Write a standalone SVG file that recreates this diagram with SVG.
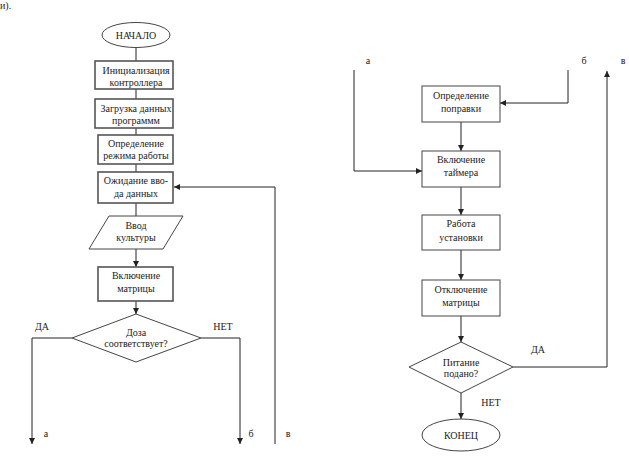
<svg xmlns="http://www.w3.org/2000/svg" width="629" height="463" viewBox="0 0 629 463">
<style>
text{font-size:10px;fill:#222;text-anchor:middle}
.lbl{text-anchor:start}
.b{fill:#fff;stroke:#555;stroke-width:1.6}
.b2{fill:#fff;stroke:#444;stroke-width:1}
.c{fill:none;stroke:#222;stroke-width:1}
</style>
<defs>
<marker id="ah" viewBox="0 0 10 10" refX="10" refY="5" markerWidth="6" markerHeight="6" orient="auto" markerUnits="userSpaceOnUse">
<path d="M0,0 L10,5 L0,10 z" fill="#222"/>
</marker>
</defs>
<rect width="629" height="463" fill="#fff"/>
<g font-family="'Liberation Serif', 'DejaVu Serif', 'Times New Roman', serif">
<text class="lbl" x="0" y="9" font-size="9">и).</text>
<g id="connectors">
<path class="c" d="M136,48 V61"/>
<path class="c" d="M136,89 V99"/>
<path class="c" d="M136,128 V135"/>
<path class="c" d="M136,164 V172"/>
<path class="c" d="M136,203 V216"/>
<path class="c" d="M136,249 V267" marker-end="url(#ah)"/>
<path class="c" d="M136,301 V314" marker-end="url(#ah)"/>
<path class="c" d="M72,338 H32 V444" marker-end="url(#ah)"/>
<path class="c" d="M201,338 H240 V444" marker-end="url(#ah)"/>
<path class="c" d="M275,444 V187 H174" marker-end="url(#ah)"/>
<path class="c" d="M354,70 V171 H422" marker-end="url(#ah)"/>
<path class="c" d="M568,70 V103 H500" marker-end="url(#ah)"/>
<path class="c" d="M513,367 H607 V71" marker-end="url(#ah)"/>
<path class="c" d="M461,122 V151" marker-end="url(#ah)"/>
<path class="c" d="M461,187 V215" marker-end="url(#ah)"/>
<path class="c" d="M461,250 V280" marker-end="url(#ah)"/>
<path class="c" d="M461,316 V342" marker-end="url(#ah)"/>
<path class="c" d="M461,393 V419" marker-end="url(#ah)"/>
</g>
<g id="labels">
<text x="42" y="330">ДА</text>
<text x="223" y="330">НЕТ</text>
<text x="46" y="437">а</text>
<text x="251" y="437">б</text>
<text x="288" y="437">в</text>
<text x="368" y="64">а</text>
<text x="584" y="64">б</text>
<text x="623" y="64">в</text>
<text x="538" y="353">ДА</text>
<text x="491" y="406">НЕТ</text>
</g>
<g id="start"><ellipse class="b2" cx="136" cy="35" rx="34" ry="12.5"/><text x="136" y="39">НАЧАЛО</text></g>
<g id="init"><rect class="b" x="95" y="61" width="78" height="28"/><text x="136" y="73.5">Инициализация</text><text x="136" y="85.5">контроллера</text></g>
<g id="load"><rect class="b" x="95" y="99" width="78" height="29"/><text x="136" y="111.5">Загрузка данных</text><text x="136" y="123.5">программм</text></g>
<g id="mode"><rect class="b" x="98" y="135" width="75" height="29"/><text x="136" y="146.5">Определение</text><text x="136" y="158.5">режима работы</text></g>
<g id="wait"><rect class="b" x="98" y="172" width="75" height="31"/><text x="136" y="183.5">Ожидание вво-</text><text x="136" y="196.5">да данных</text></g>
<g id="input"><path class="b2" d="M109,216 H183 L163,249 H89 z"/><text x="136" y="228.5">Ввод</text><text x="136" y="240.5">культуры</text></g>
<g id="matrix-on"><rect class="b" x="98" y="267" width="75" height="34"/><text x="136" y="278.5">Включение</text><text x="136" y="291.5">матрицы</text></g>
<g id="dose"><path class="b2" d="M136,314 L201,338 L136,362 L72,338 z"/><text x="136" y="335.5">Доза</text><text x="136" y="346.5">соответствует?</text></g>
<g id="correction"><rect class="b2" x="422" y="86" width="78" height="36"/><text x="461" y="98.5">Определение</text><text x="461" y="111.5">поправки</text></g>
<g id="timer"><rect class="b2" x="422" y="151" width="78" height="36"/><text x="461" y="162.5">Включение</text><text x="461" y="175.5">таймера</text></g>
<g id="work"><rect class="b2" x="422" y="215" width="78" height="35"/><text x="461" y="226.5">Работа</text><text x="461" y="240.5">установки</text></g>
<g id="matrix-off"><rect class="b2" x="422" y="280" width="78" height="36"/><text x="461" y="292.5">Отключение</text><text x="461" y="305.5">матрицы</text></g>
<g id="power"><path class="b2" d="M461,342 L513,367 L461,393 L409,367 z"/><text x="461" y="365.5">Питание</text><text x="461" y="376.5">подано?</text></g>
<g id="end"><ellipse class="b2" cx="461" cy="435" rx="39" ry="16"/><text x="461" y="439">КОНЕЦ</text></g>
</g>
</svg>
